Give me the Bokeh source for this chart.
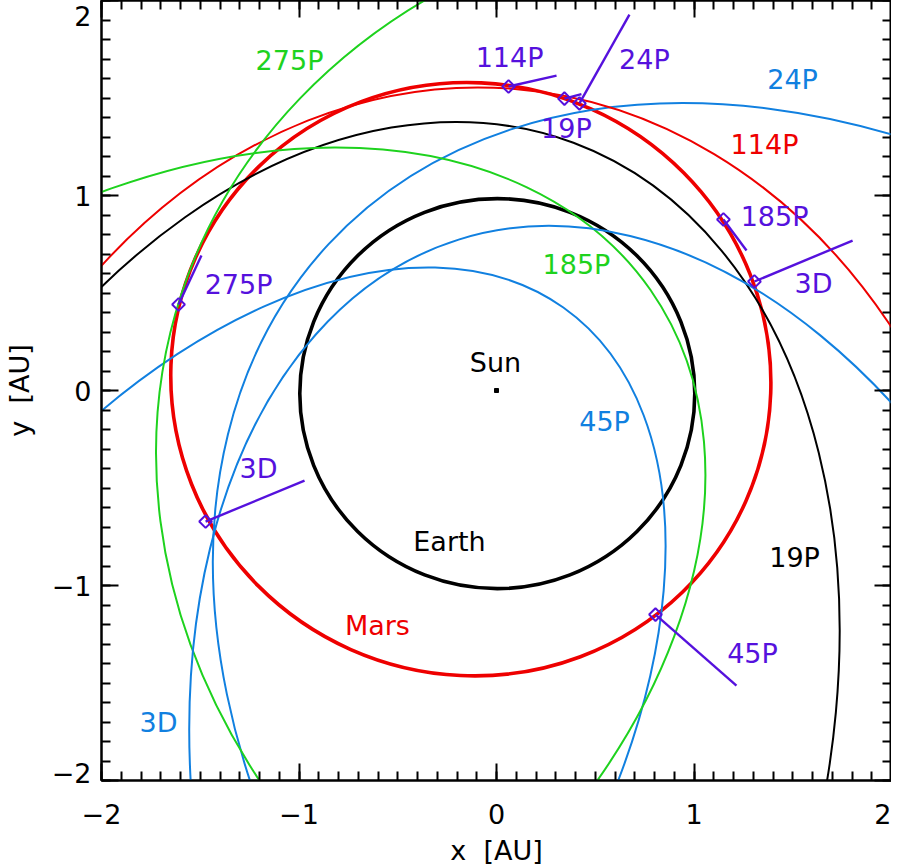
import numpy as np
from bokeh.plotting import figure
from bokeh.models import ColumnDataSource, LinearAxis, FixedTicker
from bokeh.core.properties import value
from bokeh.embed import file_html
from bokeh.resources import INLINE

# ---------------- data ----------------
# orbits projected on the ecliptic: ellipse centre, full axes (AU), rotation (deg)
ORBIT_NAMES = ["Earth", "Mars", "19P", "24P", "45P", "114P", "185P", "275P", "3D"]
ORBIT_CX = [0.004, -0.130, -0.846, 2.080, -1.390, -0.194, -1.748, 1.924, 0.840]
ORBIT_CY = [-0.016, 0.058, -2.095, -2.000, -2.047, -1.990, -1.267, -0.681, -2.560]
ORBIT_W = [2.000, 3.047, 7.090, 7.990, 5.982, 7.007, 6.160, 7.412, 6.899]
ORBIT_H = [2.000, 3.034, 4.905, 5.787, 3.560, 5.682, 4.319, 6.206, 4.590]
ORBIT_ANGLE = [0.0, 336.06, 69.6, 137.2, 54.7, 85.3, 34.84, 161.7, 107.4]
ORBIT_COLOR = ["black", "red", "black", "blue", "blue", "red", "green", "green", "blue"]
ORBIT_WIDTH = ["thick", "thick", "thin", "thin", "thin", "thin", "thin", "thin", "thin"]

# encounter points on the Mars orbit and their direction segments
MARK_NAMES = ["114P", "19P", "24P", "185P", "3D", "275P", "3D", "45P"]
MARK_X = [0.061, 0.344, 0.420, 1.149, 1.306, -1.610, -1.473, 0.805]
MARK_Y = [1.559, 1.497, 1.472, 0.877, 0.559, 0.441, -0.672, -1.149]
MARK_END_X = [0.304, 0.430, 0.673, 1.266, 1.803, -1.494, -0.972, 1.215]
MARK_END_Y = [1.615, 1.520, 1.928, 0.718, 0.769, 0.692, -0.462, -1.513]

# text labels
LABEL_TEXT = ["275P", "114P", "24P", "24P", "19P", "114P", "185P", "3D", "185P",
              "275P", "Sun", "45P", "3D", "Earth", "19P", "Mars", "45P", "3D"]
LABEL_X = [-1.048, 0.066, 0.749, 1.499, 0.354, 1.357, 1.408, 1.605, 0.405,
           -1.306, -0.005, 0.547, -1.205, -0.238, 1.509, -0.603, 1.296, -1.711]
LABEL_Y = [1.692, 1.708, 1.700, 1.595, 1.344, 1.262, 0.892, 0.549, 0.646,
           0.544, 0.144, -0.159, -0.400, -0.774, -0.856, -1.205, -1.349, -1.703]
LABEL_COLOR = ["green", "purple", "purple", "blue", "purple", "red", "purple", "purple", "green",
               "purple", "black", "blue", "purple", "black", "black", "red", "purple", "blue"]

SUN_X = [0.0]
SUN_Y = [0.0]

MAJOR_TICKS = [-2, -1, 0, 1, 2]
TICK_LABELS = ["\u22122", "\u22121", "0", "1", "2"]
MINOR_TICKS = [round(-2 + 0.1 * k, 1) for k in range(41)]

# ---------------- styling ----------------
PALETTE = {"black": "#000000", "red": "#EE0000", "green": "#1ED21E",
           "blue": "#1180E0", "purple": "#5511DD"}
WIDTHS = {"thick": 3.6, "thin": 2.0}
FONT = "DejaVu Sans"
FS = "27px"

p = figure(frame_width=790, frame_height=780, x_range=(-2, 2), y_range=(-2, 2),
           output_backend="svg", toolbar_location=None,
           min_border_left=94, min_border_right=0, min_border_top=8, min_border_bottom=10)
p.margin = (-8, 0, 0, 0)
p.xgrid.visible = False
p.ygrid.visible = False
p.outline_line_color = "black"
p.outline_line_width = 2
p.background_fill_color = "white"
p.border_fill_color = "white"

orb = ColumnDataSource(dict(
    x=ORBIT_CX, y=ORBIT_CY, w=ORBIT_W, h=ORBIT_H,
    a=[np.deg2rad(v) for v in ORBIT_ANGLE],
    c=[PALETTE[c] for c in ORBIT_COLOR],
    lw=[WIDTHS[k] for k in ORBIT_WIDTH]))
p.ellipse(x="x", y="y", width="w", height="h", angle="a", source=orb,
          fill_color=None, line_color="c", line_width="lw")

p.scatter(SUN_X, SUN_Y, marker="square", size=4, color="black")

mk = ColumnDataSource(dict(x0=MARK_X, y0=MARK_Y, x1=MARK_END_X, y1=MARK_END_Y))
p.segment(x0="x0", y0="y0", x1="x1", y1="y1", source=mk,
          line_color=PALETTE["purple"], line_width=2.4)
p.scatter(x="x0", y="y0", source=mk, marker="square", angle=np.pi / 4, size=9,
          fill_color=None, line_color=PALETTE["purple"], line_width=2)

lab = ColumnDataSource(dict(x=LABEL_X, y=LABEL_Y, t=LABEL_TEXT,
                            c=[PALETTE[c] for c in LABEL_COLOR]))
p.text(x="x", y="y", text="t", source=lab, text_color="c",
       text_align="center", text_baseline="middle",
       text_font=value(FONT), text_font_size=FS)

ticker = FixedTicker(ticks=MAJOR_TICKS, minor_ticks=MINOR_TICKS)


def tick_marks(ax):
    ax.ticker = ticker
    ax.major_tick_in = 17
    ax.major_tick_out = 0
    ax.minor_tick_in = 9
    ax.minor_tick_out = 0
    ax.major_tick_line_width = 2
    ax.minor_tick_line_width = 2
    ax.axis_line_width = 2
    ax.axis_line_color = "black"


def no_labels(ax):
    ax.major_label_overrides = {t: "" for t in MAJOR_TICKS}
    ax.major_label_text_font_size = "1px"
    ax.major_label_standoff = 0
    ax.axis_label = None


def text_style(ax):
    ax.major_label_text_font = FONT
    ax.major_label_text_font_size = FS
    ax.major_label_text_color = "black"
    ax.axis_label_text_font = FONT
    ax.axis_label_text_font_size = FS
    ax.axis_label_text_font_style = "normal"
    ax.axis_label_text_color = "black"


# x axis: ticks + labels
xa = p.xaxis[0]
tick_marks(xa)
text_style(xa)
xa.major_label_overrides = dict(zip(MAJOR_TICKS, TICK_LABELS))
xa.axis_label = "x\u00a0 [AU]"
xa.major_label_standoff = 23
xa.axis_label_standoff = 8

# y axis: tick marks on the frame, labels on a second (tick-less) axis
ya = p.yaxis[0]
tick_marks(ya)
no_labels(ya)

# the end labels of the y axis are kept inside the axis extent
y_label_pos = [t + (0.041 if t == -2 else -0.08 if t == 2 else 0.0) for t in MAJOR_TICKS]
yl = LinearAxis(ticker=FixedTicker(ticks=y_label_pos, minor_ticks=[]))
text_style(yl)
yl.major_label_overrides = dict(zip(y_label_pos, TICK_LABELS))
yl.major_tick_in = 0
yl.major_tick_out = 0
yl.minor_tick_in = 0
yl.minor_tick_out = 0
yl.axis_line_color = None
yl.major_label_standoff = 10
yl.axis_label = "y\u00a0 [AU]"
yl.axis_label_standoff = 14
p.add_layout(yl, "left")

top = LinearAxis()
tick_marks(top)
no_labels(top)
p.add_layout(top, "above")
right = LinearAxis()
tick_marks(right)
no_labels(right)
p.add_layout(right, "right")

open("out.html", "w").write(file_html(p, INLINE))
